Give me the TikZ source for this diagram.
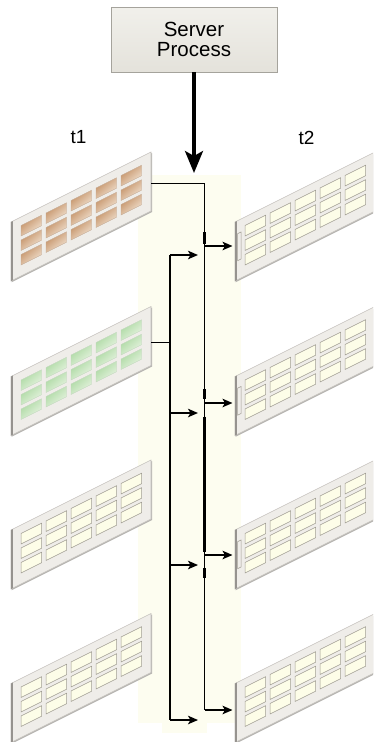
\documentclass[tikz,border=0pt]{standalone}
\usepackage{fontspec}
\setmainfont{Liberation Sans}
\usetikzlibrary{arrows.meta}
\definecolor{bgyellow}{RGB}{253,253,240}
\definecolor{panelfill}{RGB}{239,237,233}
\definecolor{paneledge}{RGB}{196,193,188}
\definecolor{panelshade}{RGB}{150,147,143}
\definecolor{cellfill}{RGB}{253,253,232}
\definecolor{celledge}{RGB}{160,157,146}
\definecolor{orangedark}{RGB}{194,142,98}
\definecolor{orangelight}{RGB}{244,230,214}
\definecolor{greendark}{RGB}{170,216,160}
\definecolor{greenlight}{RGB}{234,245,228}
\definecolor{boxtop}{RGB}{241,240,235}
\definecolor{boxbot}{RGB}{228,226,219}
\definecolor{boxedge}{RGB}{165,163,156}
\tikzset{
  thinline/.style={line width=1.1pt, black},
  thickseg/.style={line width=2.6pt, black},
  arr/.style={line width=1.8pt, black, -{Stealth[length=10pt,width=8.5pt,inset=2.5pt]}},
  bigarr/.style={line width=3.3pt, black, -{Stealth[length=22pt,width=18pt,inset=5pt]}},
  serverbox/.style={draw=boxedge, line width=0.8pt, top color=boxtop, bottom color=boxbot,
     minimum width=166pt, minimum height=65pt, inner sep=0pt, align=center,
     font=\fontsize{20.5}{20}\selectfont},
  tlabel/.style={font=\fontsize{19}{19}\selectfont, inner sep=0pt},
  cellplain/.style={fill=cellfill, draw=celledge, line width=0.5pt},
  cellorange/.style={top color=orangedark, bottom color=orangelight, shading angle=40, draw=orangedark!80!black!60, line width=0.4pt},
  cellgreen/.style={top color=greendark, bottom color=greenlight, shading angle=40, draw=greendark!80!black!50, line width=0.4pt},
}
% #1 ox, #2 oy (image px of top-left corner), #3 cell style, #4 1 = draw tab
\newcommand\drawpanel[4]{%
  \begin{scope}[shift={(#1,#2)}, yslant=0.5]
    \fill[panelshade!70] (0.5,1.5) rectangle (141,60.5);
    \fill[panelfill] (0,0) rectangle (140,59);
    \draw[paneledge, line width=0.6pt] (0,0) rectangle (140,59);
    \fill[panelshade] (0,0) rectangle (1.8,59);
    \foreach \i in {0,...,4}{\foreach \j in {0,1,2}{%
      \path[#3] ({10+25*\i},{8.5+14.5*\j}) rectangle ++(20.5,10.5);}}
    \ifnum#4=1 \draw[celledge, fill=panelfill, line width=0.5pt] (2.5,13) rectangle (6,40);\fi
  \end{scope}}
\begin{document}
\begin{tikzpicture}[x=1pt,y=-1pt]
  \useasboundingbox (0,0) rectangle (373,742);
  \clip (0,0) rectangle (373,742);
  % background band
  \fill[bgyellow] (138,175) rectangle (241,723);
  \fill[bgyellow] (162,723) rectangle (207,733);
  % server box
  \node[serverbox] (srv) at (194,39.5) {Server\\Process};
  \coordinate (arrowend) at (194,173);
  \draw[bigarr] (srv.south) -- (arrowend);
  % labels
  \node[tlabel] (t1) at (78.5,137.5) {t1};
  \node[tlabel] (t2) at (306.5,137.5) {t2};
  % panels t1
  \drawpanel{11}{222}{cellorange}{0}
  \drawpanel{11}{376.5}{cellgreen}{0}
  \drawpanel{11}{530}{cellplain}{0}
  \drawpanel{11}{683.5}{cellplain}{0}
  % panels t2
  \drawpanel{235}{222}{cellplain}{1}
  \drawpanel{235}{376.5}{cellplain}{1}
  \drawpanel{235}{530}{cellplain}{1}
  \drawpanel{235}{683.5}{cellplain}{0}
  % connector coordinates
  \coordinate (l1out) at (151,183.3);
  \coordinate (l2out) at (151,342.7);
  \coordinate (rc) at (204.5,183.3);
  \coordinate (rbot) at (204.5,710);
  \coordinate (r1in) at (232.5,246);
  \coordinate (r2in) at (232.5,403);
  \coordinate (r3in) at (232.5,555);
  \coordinate (r4in) at (232.5,710);
  \coordinate (lc) at (170,255);
  \coordinate (lbot) at (170,720);
  \coordinate (m1) at (198,255);
  \coordinate (m2) at (198,413);
  \coordinate (m3) at (198,565);
  \coordinate (m4) at (198,720);
  % right line
  \draw[thinline] (l1out) -- (rc) -- (rbot);
  \coordinate (ra1) at (204.5,232); \coordinate (ra2) at (204.5,244);
  \coordinate (rb1) at (204.5,389); \coordinate (rb2) at (204.5,398.5);
  \coordinate (rd1) at (204.5,416.5); \coordinate (rd2) at (204.5,552);
  \coordinate (re1) at (204.5,568); \coordinate (re2) at (204.5,578);
  \draw[thickseg] (ra1) -- (ra2);
  \draw[thickseg] (rb1) -- (rb2);
  \draw[thickseg] (rd1) -- (rd2);
  \draw[thickseg] (re1) -- (re2);
  \draw[arr] (rc |- r1in) -- (r1in);
  \draw[arr] (rc |- r2in) -- (r2in);
  \draw[arr] (rc |- r3in) -- (r3in);
  \draw[arr] (rbot) -- (r4in);
  % left line
  \draw[thinline] (lc) -- (lbot);
  \draw[thinline] (l2out) -- (l2out -| lc);
  \coordinate (la1) at (170,399); \coordinate (la2) at (170,425);
  \coordinate (lb1) at (170,550); \coordinate (lb2) at (170,577);
  \draw[thickseg] (la1) -- (la2);
  \draw[thickseg] (lb1) -- (lb2);
  \draw[arr] (lc) -- (m1);
  \draw[arr] (lc |- m2) -- (m2);
  \draw[arr] (lc |- m3) -- (m3);
  \draw[arr] (lbot) -- (m4);
\end{tikzpicture}
\end{document}
